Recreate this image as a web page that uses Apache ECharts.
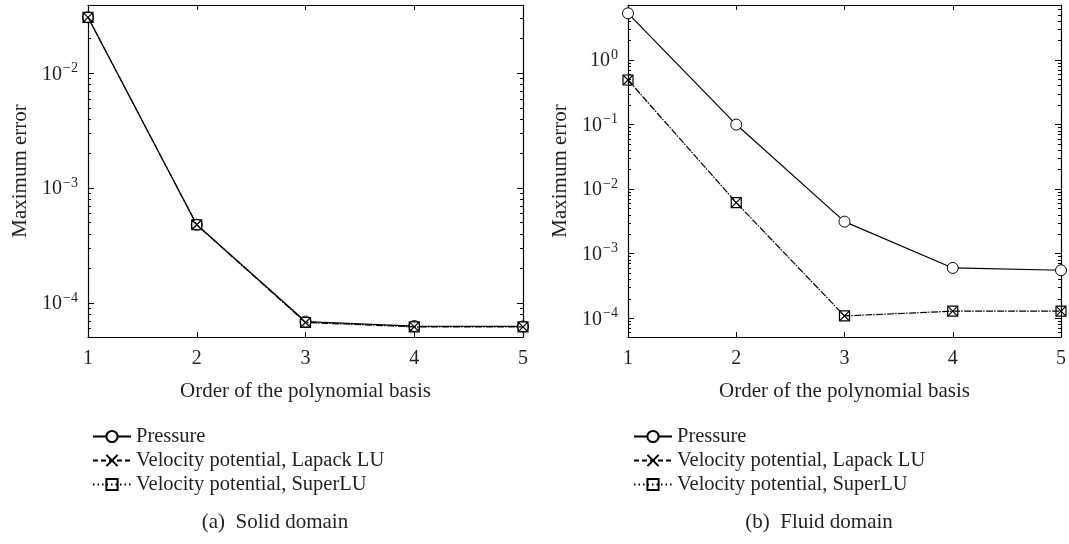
<!DOCTYPE html>
<html>
<head>
<meta charset="utf-8">
<script src="https://cdn.jsdelivr.net/npm/echarts@6/dist/echarts.min.js"></script>
<style>
html,body{margin:0;padding:0;background:#fff;}
#chart{width:1069px;height:544px;}
</style>
</head>
<body>
<div id="chart"></div>
<script>
// ---- data ----
const orders = [1, 2, 3, 4, 5];
const solidPressure = [0.0307, 4.8e-4, 6.9e-5, 6.3e-5, 6.25e-5];
const solidLapack   = [0.0307, 4.8e-4, 6.77e-5, 6.2e-5, 6.2e-5];
const solidSuperLU  = [0.0307, 4.8e-4, 6.77e-5, 6.2e-5, 6.2e-5];
const fluidPressure = [5.28, 0.1, 3.14e-3, 6.03e-4, 5.55e-4];
const fluidLapack   = [0.49, 6.18e-3, 1.09e-4, 1.29e-4, 1.29e-4];
const fluidSuperLU  = [0.49, 6.18e-3, 1.09e-4, 1.29e-4, 1.29e-4];
const seriesNames = ['Pressure', 'Velocity potential, Lapack LU', 'Velocity potential, SuperLU'];
const solidMajorTicks = [1e-4, 1e-3, 1e-2];
const fluidMajorTicks = [1e-4, 1e-3, 1e-2, 1e-1, 1];
const xTickLabels = ['1', '2', '3', '4', '5'];
const captions = ['(a)  Solid domain', '(b)  Fluid domain'];
const yTitle = 'Maximum error';
const xTitle = 'Order of the polynomial basis';

// ---- styling helpers ----
const FONT = '"Liberation Serif", "DejaVu Serif", serif';
const INK = '#231f20';
const TXT = 21;
const solidRange = [5.06e-5, 0.0393];
const fluidRange = [5.14e-5, 7.1];

function minorTicks(range) {
  const out = [];
  for (let e = -6; e <= 2; e++) {
    for (let m = 2; m <= 9; m++) {
      const v = m * Math.pow(10, e);
      if (v > range[0] && v < range[1]) out.push(v);
    }
  }
  return out;
}
function logLabel(v) {
  const e = Math.round(Math.log10(v));
  return '{b|10}{s|' + (e < 0 ? '\u2212' + (-e) : String(e)) + '}';
}
const richLabel = {
  b: {fontSize: 20, fontFamily: FONT, color: INK, verticalAlign: 'bottom', lineHeight: 22},
  s: {fontSize: 14, fontFamily: FONT, color: INK, verticalAlign: 'bottom', lineHeight: 22, padding: [0, 0, 9, 1]}
};

function yAxes(gridIndex, range, major, withTitle) {
  const minor = minorTicks(range);
  const base = {type: 'log', gridIndex: gridIndex, min: range[0], max: range[1],
    splitLine: {show: false}, minorTick: {show: false}, minorSplitLine: {show: false}};
  return [
    Object.assign({}, base, {
      position: 'left',
      name: withTitle, nameLocation: 'middle', nameGap: 57,
      nameTextStyle: {fontSize: TXT, fontFamily: FONT, color: INK},
      axisLine: {show: true, lineStyle: {color: '#000', width: 1.2}},
      axisTick: {show: true, inside: true, length: 6, customValues: major, lineStyle: {color: '#000'}},
      axisLabel: {show: true, customValues: major, formatter: logLabel, rich: richLabel, margin: 10}
    }),
    Object.assign({}, base, {
      position: 'left',
      axisLine: {show: false},
      axisTick: {show: true, inside: true, length: 3, customValues: minor, lineStyle: {color: '#000'}},
      axisLabel: {show: false}
    }),
    Object.assign({}, base, {
      position: 'right',
      axisLine: {show: true, lineStyle: {color: '#000', width: 1.2}},
      axisTick: {show: true, inside: true, length: 6, customValues: major, lineStyle: {color: '#000'}},
      axisLabel: {show: false}
    }),
    Object.assign({}, base, {
      position: 'right',
      axisLine: {show: false},
      axisTick: {show: true, inside: true, length: 3, customValues: minor, lineStyle: {color: '#000'}},
      axisLabel: {show: false}
    })
  ];
}
function xAxes(gridIndex) {
  const base = {type: 'value', gridIndex: gridIndex, min: 1, max: 5, interval: 1, splitLine: {show: false}};
  return [
    Object.assign({}, base, {
      position: 'bottom',
      name: xTitle, nameLocation: 'middle', nameGap: 44,
      nameTextStyle: {fontSize: TXT, fontFamily: FONT, color: INK},
      axisLine: {show: true, lineStyle: {color: '#000', width: 1.2}},
      axisTick: {show: true, inside: true, length: 5, lineStyle: {color: '#000'}},
      axisLabel: {show: true, margin: 12, fontSize: 20, fontFamily: FONT, color: INK,
        formatter: function (v) { return xTickLabels[Math.round(v) - 1] || ''; }}
    }),
    Object.assign({}, base, {
      position: 'top',
      axisLine: {show: true, lineStyle: {color: '#000', width: 1.2}},
      axisTick: {show: true, inside: true, length: 5, lineStyle: {color: '#000'}},
      axisLabel: {show: false}
    })
  ];
}

const XPATH = 'path://M0,0L10,10M10,0L0,10';
const seriesStyles = [
  {symbol: 'circle', size: 11, line: {type: 'solid'}, item: {color: '#fff', borderColor: '#000', borderWidth: 1}},
  {symbol: XPATH, size: 9, line: {type: [7, 4]}, item: {color: '#000', borderColor: '#000', borderWidth: 1.2}},
  {symbol: 'rect', size: 10, line: {type: [1.5, 9.5], dashOffset: 3}, item: {color: 'rgba(0,0,0,0)', borderColor: '#000', borderWidth: 1.2}}
];
function makeSeries(xIdx, yIdx, arrays) {
  return arrays.map(function (arr, k) {
    const st = seriesStyles[k];
    return {
      type: 'line', name: seriesNames[k], xAxisIndex: xIdx, yAxisIndex: yIdx,
      data: orders.map(function (x, i) { return [x, arr[i]]; }),
      symbol: st.symbol, symbolSize: st.size, showAllSymbol: true,
      lineStyle: Object.assign({color: '#000', width: 1.2}, st.line),
      itemStyle: st.item,
      emphasis: {disabled: true},
      animation: false, z: 3 + k
    };
  });
}

const legendData = [
  {name: seriesNames[0]},
  {name: seriesNames[1], lineStyle: {type: [5, 3]}},
  {name: seriesNames[2], lineStyle: {type: [1.5, 3], dashOffset: 0}}
];
const legendBase = {
  orient: 'vertical', itemWidth: 38, itemHeight: 14, itemGap: 3,
  textStyle: {fontSize: 20.5, fontFamily: FONT, color: INK, lineHeight: 20},
  data: legendData, selectedMode: false, top: 421
};

const option = {
  backgroundColor: '#fff',
  animation: false,
  grid: [
    {left: 88, top: 5, width: 435, height: 332},
    {left: 628, top: 5, width: 436, height: 332}
  ],
  xAxis: xAxes(0).concat(xAxes(1)),
  yAxis: yAxes(0, solidRange, solidMajorTicks, yTitle).concat(yAxes(1, fluidRange, fluidMajorTicks, yTitle)),
  legend: [
    Object.assign({}, legendBase, {left: 87}),
    Object.assign({}, legendBase, {left: 628})
  ],
  title: [
    {text: captions[0], left: 270, top: 507, textAlign: 'center',
      textStyle: {fontSize: TXT, fontWeight: 'normal', fontFamily: FONT, color: INK}},
    {text: captions[1], left: 814, top: 507, textAlign: 'center',
      textStyle: {fontSize: TXT, fontWeight: 'normal', fontFamily: FONT, color: INK}}
  ],
  series: makeSeries(0, 0, [solidPressure, solidLapack, solidSuperLU])
    .concat(makeSeries(2, 4, [fluidPressure, fluidLapack, fluidSuperLU]))
};

const chart = echarts.init(document.getElementById('chart'), null, {renderer: 'canvas'});
chart.setOption(option);
</script>
</body>
</html>
